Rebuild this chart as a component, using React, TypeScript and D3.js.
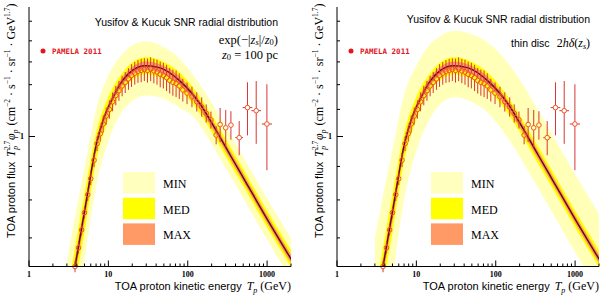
import React from 'react'
import * as d3 from 'd3'

// central model curve (proton flux x Tp^2.7)
const curveE = [3.2, 3.8, 5.3, 7.1, 8.6, 11.5, 15.3, 20.5, 29, 45, 80, 143, 222, 342, 529, 1000, 2000, 2500]
const curveF = [0.56, 0.633, 0.8, 0.977, 1.06, 1.149, 1.22, 1.264, 1.283, 1.273, 1.215, 1.121, 1.027, 0.937, 0.855, 0.748, 0.65, 0.621]

// uncertainty bands (MIN / MED / MAX)
const bandE = [3, 4, 5, 7, 10, 15, 20, 30, 50, 80, 120, 200, 300, 500, 1000, 2000, 2500]
const leftMinHi = [0.644, 0.779, 0.894, 1.099, 1.239, 1.335, 1.379, 1.398, 1.369, 1.312, 1.235, 1.127, 1.035, 0.931, 0.804, 0.699, 0.668]
const leftMinLo = [0.446, 0.55, 0.649, 0.839, 0.984, 1.093, 1.133, 1.155, 1.142, 1.106, 1.069, 0.975, 0.896, 0.805, 0.696, 0.605, 0.578]
const rightMinHi = [0.698, 0.838, 0.955, 1.157, 1.283, 1.384, 1.423, 1.45, 1.432, 1.391, 1.327, 1.221, 1.127, 1.013, 0.875, 0.761, 0.727]
const rightMinLo = [0.419, 0.517, 0.611, 0.8, 0.951, 1.068, 1.121, 1.148, 1.129, 1.087, 1.023, 0.933, 0.857, 0.771, 0.666, 0.579, 0.553]
const medHi = [0.575, 0.701, 0.817, 1.012, 1.15, 1.25, 1.297, 1.321, 1.3, 1.251, 1.183, 1.079, 0.992, 0.892, 0.77, 0.67, 0.64]
const medLo = [0.502, 0.612, 0.714, 0.916, 1.062, 1.178, 1.221, 1.245, 1.224, 1.179, 1.115, 1.017, 0.934, 0.84, 0.726, 0.631, 0.602]
const maxHi = [0.553, 0.675, 0.787, 0.983, 1.123, 1.232, 1.278, 1.302, 1.281, 1.233, 1.166, 1.064, 0.977, 0.879, 0.759, 0.66, 0.63]
const maxLo = [0.521, 0.635, 0.741, 0.945, 1.089, 1.196, 1.24, 1.264, 1.243, 1.197, 1.132, 1.032, 0.949, 0.853, 0.737, 0.64, 0.612]

// PAMELA 2011 points
const pamE = [3.8, 4.2, 4.6, 5.0, 5.5, 6.0, 6.6, 7.2, 7.9, 8.6, 9.4, 10.3, 11.3, 12.4, 13.6, 14.9, 16.3, 17.9, 19.6, 21.5, 23.6, 25.9, 28.4, 31.1, 34.1, 37.4, 41.0, 45.0, 49.3, 54.1, 59.3, 65.0, 71.3, 78.2, 86.7, 98, 113, 130, 150, 171, 196, 228, 256, 301, 350, 445, 566, 729, 994]
const pamF = [0.633, 0.676, 0.72, 0.765, 0.815, 0.862, 0.92, 0.975, 1.01, 1.045, 1.075, 1.1, 1.13, 1.155, 1.175, 1.195, 1.21, 1.225, 1.24, 1.25, 1.258, 1.262, 1.266, 1.262, 1.268, 1.26, 1.255, 1.245, 1.24, 1.23, 1.218, 1.21, 1.205, 1.195, 1.178, 1.165, 1.15, 1.13, 1.11, 1.085, 1.06, 1.005, 1.043, 1.031, 1.041, 0.996, 1.107, 1.095, 1.045]
const pamErr = [0.02, 0.02, 0.02, 0.02, 0.022, 0.022, 0.024, 0.026, 0.028, 0.03, 0.03, 0.032, 0.033, 0.034, 0.035, 0.036, 0.037, 0.038, 0.04, 0.04, 0.04, 0.041, 0.04, 0.042, 0.042, 0.043, 0.044, 0.045, 0.045, 0.046, 0.045, 0.046, 0.047, 0.045, 0.04, 0.038, 0.036, 0.034, 0.034, 0.032, 0.03, 0.032, 0.06, 0.065, 0.05, 0.06, 0.093, 0.11, 0.15]
const pamBin = [0, 0, 0, 0, 0, 0, 0, 0, 0, 0, 0, 0, 0, 0, 0, 0, 0, 0, 0, 0, 0, 0, 0, 0, 0, 0, 0, 0, 0, 0, 0, 0, 0, 0, 0, 0, 0, 0, 0, 0, 0, 0, 0, 0, 0, 1.12, 1.15, 1.15, 1.16]

const legendNames = ['MIN', 'MED', 'MAX']
const legendColors = ['#ffffbe', '#ffff00', '#ff9966']

const serif = '"Liberation Serif", "DejaVu Serif", serif'
const sans = '"Liberation Sans", Arial, sans-serif'
const red = '#d93636'

const Panel = ({ x0, minLo, minHi, id, right }: any) => {
    const x = d3.scaleLog().domain([1, 2000]).range([x0, x0 + 262])
    const y = d3.scaleLog().domain([0.633, 1.577]).range([266.5, 7])
    const [top, bottom] = [y.range()[1], y.range()[0]]
    const [left, rightEdge] = x.range()

    const band = (lo: number[], hi: number[]) =>
        d3.area<number>()
            .x(d => x(d))
            .y0((d, i) => y(lo[i]))
            .y1((d, i) => y(hi[i]))
            .curve(d3.curveMonotoneX)(bandE)
    const line = d3.line<number>()
        .x(d => x(d))
        .y((d, i) => y(curveF[i]))
        .curve(d3.curveMonotoneX)(curveE)

    const end = right ? 590 : 278
    const r = 2.3

    return (
        <g>
            <defs>
                <clipPath id={id}>
                    <rect x={left} y={top} width={rightEdge - left} height={bottom - top} />
                </clipPath>
            </defs>
            <g clipPath={`url(#${id})`}>
                <path d={band(minLo, minHi) || ''} fill='#ffffb8' />
                <path d={band(medLo, medHi) || ''} fill='#ffff00' />
                <path d={band(maxLo, maxHi) || ''} fill='#ff9966' />
                <path d={line || ''} fill='none' stroke='#6a0d0d' strokeWidth={1.5} />
            </g>

            {/* data points */}
            {pamE.map((e, i) => {
                const cx = x(e)
                const cy = y(pamF[i])
                const yt = y(pamF[i] * (1 + pamErr[i]))
                const yb = y(pamF[i] * (1 - pamErr[i]))
                return (
                    <g key={i}>
                        {cy - r > yt && <line x1={cx} x2={cx} y1={yt} y2={cy - r} stroke={red} strokeWidth={1} />}
                        {yb > cy + r && <line x1={cx} x2={cx} y1={cy + r} y2={yb} stroke={red} strokeWidth={1} />}
                        {pamBin[i] > 0 &&
                            <g>
                                <line x1={x(e / pamBin[i])} x2={cx - r} y1={cy} y2={cy} stroke={red} />
                                <line x1={cx + r} x2={x(e * pamBin[i])} y1={cy} y2={cy} stroke={red} />
                            </g>
                        }
                        <circle cx={cx} cy={cy} r={r} fill='none' stroke='#ee5522' strokeWidth={1} />
                    </g>
                )
            })}

            {/* axes */}
            <line x1={left} x2={rightEdge} y1={bottom} y2={bottom} stroke='#000' />
            <line x1={left} x2={left} y1={top} y2={bottom} stroke='#000' />
            {x.ticks().map(t => {
                const major = Math.abs(Math.log10(t) - Math.round(Math.log10(t))) < 1e-9
                return (
                    <g key={t}>
                        <line x1={x(t)} x2={x(t)} y1={bottom} y2={bottom - (major ? 6 : 3)} stroke='#000' />
                        {major &&
                            <text x={x(t)} y={277} textAnchor='middle' fontFamily={serif} fontWeight='bold' fontSize={8}>{t}</text>
                        }
                    </g>
                )
            })}
            {y.ticks().map(t => (
                <g key={t}>
                    <line x1={left} x2={left + (t === 1 ? 6 : 3)} y1={y(t)} y2={y(t)} stroke='#000' />
                    {t === 1 &&
                        <text x={left - 5} y={y(t) + 3} textAnchor='end' fontFamily={serif} fontWeight='bold' fontSize={8}>1</text>
                    }
                </g>
            ))}

            {/* axis titles */}
            <text x={rightEdge} y={290} textAnchor='end' fontSize={11}>
                <tspan fontFamily={sans}>TOA proton kinetic energy</tspan>
                <tspan fontFamily={serif} fontStyle='italic' dx={5} fontSize={12}>T</tspan>
                <tspan fontFamily={serif} fontStyle='italic' fontSize={8} dy={3}>p</tspan>
                <tspan fontFamily={serif} fontSize={12} dy={-3} dx={3}>(GeV)</tspan>
            </text>
            <text transform={`translate(${left - 14}, 238) rotate(-90)`} fontSize={11}>
                <tspan fontFamily={sans}>TOA proton flux</tspan>
                <tspan fontFamily={serif} fontStyle='italic' fontSize={12} dx={5}>T</tspan>
                <tspan fontFamily={serif} fontSize={7.5} dy={-5}>2.7</tspan>
                <tspan fontFamily={serif} fontStyle='italic' fontSize={7.5} dx={-9} dy={8}>p</tspan>
                <tspan fontFamily={serif} fontStyle='italic' fontSize={12} dx={6} dy={-3}>φ</tspan>
                <tspan fontFamily={serif} fontStyle='italic' fontSize={7.5} dy={3}>p</tspan>
                <tspan fontFamily={serif} fontSize={12} dx={4} dy={-3}>(cm</tspan>
                <tspan fontFamily={serif} fontSize={7.5} dy={-5}>−2</tspan>
                <tspan fontFamily={serif} fontSize={12} dy={5}> · s</tspan>
                <tspan fontFamily={serif} fontSize={7.5} dy={-5}>−1</tspan>
                <tspan fontFamily={serif} fontSize={12} dy={5}> · sr</tspan>
                <tspan fontFamily={serif} fontSize={7.5} dy={-5}>−1</tspan>
                <tspan fontFamily={serif} fontSize={12} dy={5}> · GeV</tspan>
                <tspan fontFamily={serif} fontSize={7.5} dy={-5}>1.7</tspan>
                <tspan fontFamily={serif} fontSize={12} dy={5}>)</tspan>
            </text>

            {/* titles */}
            <text x={end} y={right ? 23 : 26} textAnchor='end' fontFamily={sans} fontSize={10.5}>
                Yusifov &amp; Kucuk SNR radial distribution
            </text>
            {right ? (
                <text x={end} y={47} textAnchor='end' fontSize={12}>
                    <tspan fontFamily={sans} fontSize={10.5}>thin disc</tspan>
                    <tspan fontFamily={serif} dx={7}>2</tspan>
                    <tspan fontFamily={serif} fontStyle='italic'>hδ</tspan>
                    <tspan fontFamily={serif}>(</tspan>
                    <tspan fontFamily={serif} fontStyle='italic'>z</tspan>
                    <tspan fontFamily={serif} fontStyle='italic' fontSize={8} dy={2}>s</tspan>
                    <tspan fontFamily={serif} dy={-2}>)</tspan>
                </text>
            ) : (
                <g>
                    <text x={end} y={43.5} textAnchor='end' fontFamily={serif} fontSize={12.5}>
                        <tspan>exp(−|</tspan>
                        <tspan fontStyle='italic'>z</tspan>
                        <tspan fontStyle='italic' fontSize={8.5} dy={1.5}>s</tspan>
                        <tspan dy={-1.5}>|/</tspan>
                        <tspan fontStyle='italic'>z</tspan>
                        <tspan fontSize={8.5} dy={1.5}>0</tspan>
                        <tspan dy={-1.5}>)</tspan>
                    </text>
                    <text x={end} y={58.5} textAnchor='end' fontFamily={serif} fontSize={12.5}>
                        <tspan fontStyle='italic'>z</tspan>
                        <tspan fontSize={8.5} dy={1.5}>0</tspan>
                        <tspan dy={-1.5}> = 100 pc</tspan>
                    </text>
                </g>
            )}

            {/* PAMELA legend */}
            <circle cx={left + 14} cy={51} r={2.5} fill='#e3161e' />
            <text x={left + 23} y={54} fontFamily='"DejaVu Sans Mono", monospace' fontWeight='bold' fontSize={7.5} fill='#e3161e'>
                PAMELA 2011
            </text>

            {/* model legend */}
            {legendNames.map((n, i) => (
                <g key={n}>
                    <rect x={left + 94} y={172 + i * 25.7} width={32} height={21.5} fill={legendColors[i]} />
                    <text x={left + 134} y={188 + i * 25.7} fontFamily={serif} fontSize={12}>{n}</text>
                </g>
            ))}
        </g>
    )
}

const App = () => {
    return (
        <svg width={600} height={295} style={{ position: 'absolute', left: 0, top: 0, background: '#fff' }}>
            <Panel x0={29} minLo={leftMinLo} minHi={leftMinHi} id='clipL' right={false} />
            <Panel x0={337} minLo={rightMinLo} minHi={rightMinHi} id='clipR' right={true} />
        </svg>
    )
}

export default App
